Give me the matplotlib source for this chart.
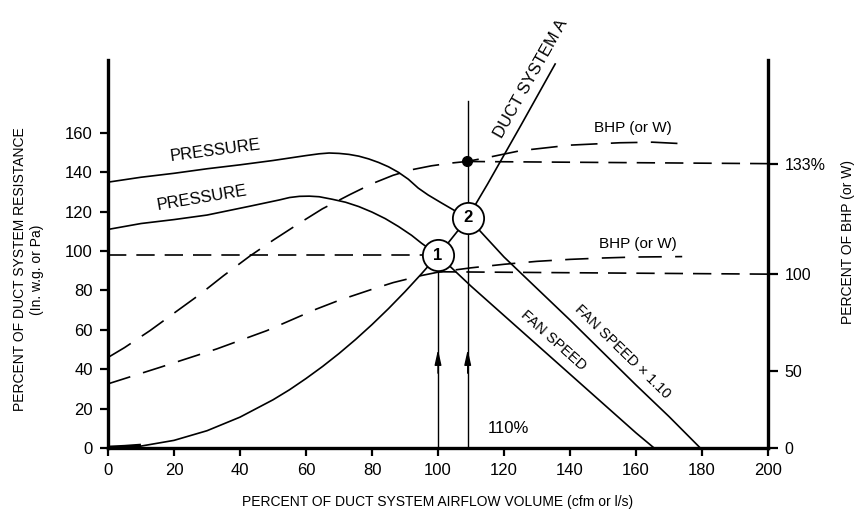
import matplotlib
matplotlib.use("Agg")
import matplotlib.pyplot as plt

plt.rcParams['font.family'] = ['Liberation Sans', 'DejaVu Sans']

# ---------------- data (percent values) ----------------
# Fan pressure curve at fan speed x 1.10
press_hi_x = [0, 10, 20, 30, 40, 50, 60, 64, 67, 70, 73, 76, 79, 82, 85, 88, 91, 94, 97, 101, 105, 109,
              120, 130, 140, 150, 160, 170, 179.5]
press_hi_y = [135, 137.5, 139.5, 141.8, 143.8, 146, 148.5, 149.4, 149.8, 149.6, 149.1, 148.2, 146.8, 145,
              142.8, 140, 136.5, 132, 128.5, 124.5, 120.6, 117,
              97, 81, 65, 48.5, 32, 16, 0]
# Fan pressure curve at fan speed
press_lo_x = [0, 10, 20, 30, 43, 52, 55, 58, 61, 64, 68, 72, 76, 80, 84, 88, 92, 95, 100,
              110, 120, 130, 140, 150, 160, 165.5]
press_lo_y = [111, 114, 116, 118.3, 122.8, 126, 127.2, 127.8, 127.9, 127.6, 126.3, 124.8, 122.6, 119.8,
              116.5, 112.5, 108, 104, 98,
              82.2, 67.3, 52.4, 37.5, 22.6, 7.7, 0]
# Duct system A resistance curve
duct_x = [0, 5, 10, 20, 30, 40, 50, 55, 60, 65, 70, 75, 80, 85, 90, 95, 100, 103, 106, 109,
          112, 115, 125, 135.5]
duct_y = [0, 0.4, 1, 3.9, 8.8, 15.7, 24.5, 29.6, 35.3, 41.4, 48, 55.1, 62.7, 70.8, 79.4, 88.5, 98,
          104, 110.3, 117, 125.5, 134, 163.5, 195]
# BHP curve at fan speed x 1.10 (plotted on the left scale)
bhp_hi_x = [0, 5, 12.7, 20, 27.9, 35, 43, 50, 58.2, 65, 73.3, 80, 86.4, 92, 98, 104, 108.7,
            115, 125, 140, 155, 165, 174.5]
bhp_hi_y = [46, 51, 59.6, 68.5, 78.1, 87.5, 97.5, 105.5, 114.4, 121.5, 128.7, 134.2, 138.5, 141.3,
            143.3, 144.7, 145.5, 147.5, 151, 153.8, 155, 155.3, 154.5]
# BHP curve at fan speed (plotted on the left scale)
bhp_lo_x = [0, 15.8, 32.9, 48.1, 63.2, 70, 80, 86.4, 90, 95, 100, 110, 120, 130, 140, 150, 160, 174]
bhp_lo_y = [32.6, 41, 50.3, 59.6, 70.6, 75, 80.6, 84, 85.5, 87.6, 89.3, 91.5, 93.3, 94.8, 95.8, 96.5,
            97, 97.2]

# Reference (projection) lines
ref_press_x = [0, 100]
ref_press_y = [98, 98]
ref_bhp1_x = [100, 200]
ref_bhp1_y = [89.5, 88.3]
ref_bhp2_x = [108.7, 200]
ref_bhp2_y = [145.5, 144.4]

# Operating points
op_x = [100, 109]
op_y = [98, 117]
op_labels = ['1', '2']
dot_x = [108.7]
dot_y = [145.5]

# Airflow verticals
flow1_x = [100, 100]
flow1_y = [0, 98]
flow2_x = [109, 109]
flow2_y = [0, 176]
arrow_y = 50

# Axis ticks
x_ticks = [0, 20, 40, 60, 80, 100, 120, 140, 160, 180, 200]
y_ticks = [0, 20, 40, 60, 80, 100, 120, 140, 160]
bhp_tick_pos = [0, 39.2, 88.3, 144.4]
bhp_tick_labels = ['0', '50', '100', '133%']

# ---------------- figure ----------------
fig = plt.figure(figsize=(8.56, 5.15), dpi=100)
ax = fig.add_axes([0.1262, 0.130, 0.771, 0.7534])
ax.set_xlim(0, 200)
ax.set_ylim(0, 197)

lw = 1.2
ax.plot(press_hi_x, press_hi_y, color='black', lw=lw)
ax.plot(press_lo_x, press_lo_y, color='black', lw=lw)
ax.plot(duct_x, duct_y, color='black', lw=lw)
ax.plot(duct_x[:3], duct_y[:3], color='black', lw=3.5, solid_capstyle='butt')
ax.plot(bhp_hi_x, bhp_hi_y, color='black', lw=lw, dashes=(16, 8))
ax.plot(bhp_lo_x, bhp_lo_y, color='black', lw=lw, dashes=(14, 8))
ax.plot(ref_press_x, ref_press_y, color='black', lw=lw, dashes=(11, 6))
ax.plot(ref_bhp1_x, ref_bhp1_y, color='black', lw=lw, dashes=(11, 6))
ax.plot(ref_bhp2_x, ref_bhp2_y, color='black', lw=lw, dashes=(11, 6))

ax.plot(flow1_x, flow1_y, color='black', lw=1.0)
ax.plot(flow2_x, flow2_y, color='black', lw=1.0)
for fx in (flow1_x[0], flow2_x[0]):
    ax.annotate('', xy=(fx, arrow_y), xytext=(fx, arrow_y - 12),
                arrowprops=dict(arrowstyle='-|>,head_length=0.9,head_width=0.2',
                                color='black', lw=1.0, shrinkA=0, shrinkB=0))

ax.plot(dot_x, dot_y, 'o', color='black', markersize=7, zorder=6)
for x, y, t in zip(op_x, op_y, op_labels):
    ax.plot([x], [y], 'o', markersize=22.5, markerfacecolor='white',
            markeredgecolor='black', markeredgewidth=1.3, zorder=7)
    ax.text(x, y, t, ha='center', va='center', fontsize=12, fontweight='bold', zorder=8)

# Curve labels
ax.text(32.6, 151, 'PRESSURE', rotation=7.5, ha='center', va='center', fontsize=12, rotation_mode='anchor')
ax.text(28.4, 126.7, 'PRESSURE', rotation=9.5, ha='center', va='center', fontsize=12, rotation_mode='anchor')
ax.text(128.3, 187.5, 'DUCT SYSTEM A', rotation=60.5, ha='center', va='center', fontsize=12, rotation_mode='anchor')
ax.text(159, 162.6, 'BHP (or W)', ha='center', va='center', fontsize=11)
ax.text(160.6, 103.4, 'BHP (or W)', ha='center', va='center', fontsize=11)
ax.text(134.9, 54.4, 'FAN SPEED', rotation=-41.8, ha='center', va='center', fontsize=10.5, rotation_mode='anchor')
ax.text(155.9, 48.8, 'FAN SPEED \u00d7 1.10', rotation=-44.3, ha='center', va='center', fontsize=10.5, rotation_mode='anchor')
ax.text(121.3, 9.9, '110%', ha='center', va='center', fontsize=12)

# Axes styling
ax.spines['top'].set_visible(False)
for s in ('left', 'bottom', 'right'):
    ax.spines[s].set_linewidth(2.4)
ax.set_xticks(x_ticks)
ax.set_yticks(y_ticks)
ax.tick_params(axis='both', direction='out', length=6, width=1.6, labelsize=12, pad=5)
ax.set_xlabel('PERCENT OF DUCT SYSTEM AIRFLOW VOLUME (cfm or l/s)', fontsize=10, labelpad=12)
ax.set_ylabel('PERCENT OF DUCT SYSTEM RESISTANCE\n(In. w.g. or Pa)', fontsize=10, linespacing=1.3)
ax.yaxis.set_label_coords(-0.097, 0.46)

ax2 = ax.twinx()
ax2.set_ylim(ax.get_ylim())
for s in ax2.spines.values():
    s.set_visible(False)
ax2.set_yticks(bhp_tick_pos)
ax2.set_yticklabels(bhp_tick_labels)
ax2.tick_params(axis='y', direction='out', length=7, width=1.6, labelsize=11.5, pad=5)
ax2.set_ylabel('PERCENT OF BHP (or W)', fontsize=10)
ax2.yaxis.set_label_coords(1.11, 0.53)

fig.savefig('out.png', dpi=100)
